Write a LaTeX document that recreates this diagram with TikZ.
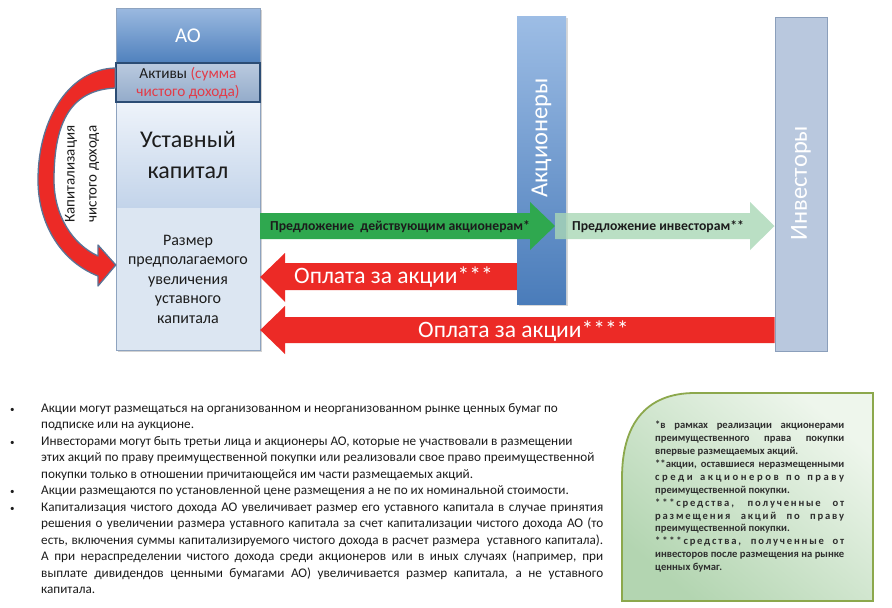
\documentclass[tikz,border=0pt]{standalone}
\usepackage{fontspec}
\setmainfont{Carlito}
\newfontfamily\spacedA[LetterSpace=24]{Carlito}
\newfontfamily\spacedB[LetterSpace=17]{Carlito}
\usetikzlibrary{shadows}
\definecolor{aoTop}{HTML}{9BB9E0}
\definecolor{aoBot}{HTML}{4F81BD}
\definecolor{assetTop}{HTML}{BACADF}
\definecolor{assetBot}{HTML}{93ABCA}
\definecolor{assetLine}{HTML}{2B4C74}
\definecolor{capTop}{HTML}{EEF3FA}
\definecolor{capBot}{HTML}{C3D4EA}
\definecolor{sizeFill}{HTML}{DCE6F2}
\definecolor{frameC}{HTML}{8EA3BF}
\definecolor{akTop}{HTML}{9DBDE5}
\definecolor{akBot}{HTML}{4A7CBA}
\definecolor{invFill}{HTML}{B9C8DE}
\definecolor{invLine}{HTML}{8B9FBB}
\definecolor{greenA}{HTML}{2FA84F}
\definecolor{greenB}{HTML}{A9D7B6}
\definecolor{redA}{HTML}{EC2A26}
\definecolor{redText}{HTML}{E23B48}
\definecolor{curveLine}{HTML}{5A7496}
\definecolor{noteLine}{HTML}{8CA84C}
\definecolor{noteDark}{HTML}{B3D5B1}
\definecolor{noteLight}{HTML}{EEF6EC}
\definecolor{txt}{HTML}{1C1C1C}
\definecolor{fnTxt}{HTML}{2E2E2E}
\tikzset{
  secbox/.style={inner sep=0pt, minimum width=144},
  labeltext/.style={inner sep=0pt, text=txt},
  redarrow/.style={fill=redA},
  whitebig/.style={inner sep=0pt, text=white, font=\fontsize{23.5}{27}\selectfont},
  offertext/.style={inner sep=0pt, text=txt, font=\bfseries\fontsize{13.7}{16}\selectfont, anchor=west},
  coltext/.style={inner sep=0pt, rotate=90, text=white, font=\fontsize{24.5}{28}\selectfont},
}
\begin{document}
\begin{tikzpicture}[x=1pt,y=-1pt]
\useasboundingbox (0,0) rectangle (892,608);
\fill[white] (0,0) rectangle (892,608);

% ---- AO column
\path[fill=sizeFill, drop shadow={opacity=0.35, shadow xshift=1.5pt, shadow yshift=-1.5pt}] (116,8) rectangle (260,350);
\node[secbox, minimum height=55, top color=aoTop, bottom color=aoBot, text=white,
      font=\fontsize{21}{24}\selectfont] (ao) at (188,35.5) {АО};
\node[secbox, minimum height=143, fill=sizeFill] (size) at (188,278.5) {};
\node[secbox, minimum height=105, top color=capTop, bottom color=capBot] (charter) at (188,154.5) {};
\node[secbox, minimum height=39, top color=assetTop, bottom color=assetBot,
      draw=assetLine, line width=1.4pt] (assets) at (188,82.5) {};
\draw[frameC, line width=0.8pt] (116,8) rectangle (260,350);
\draw[assetLine, line width=1.4pt] (116,63) rectangle (260,102);

\node[labeltext, align=center, font=\fontsize{15.3}{18}\selectfont] (assetsT) at (188,83)
  {Активы {\color{redText}(сумма}\\{\color{redText}чистого дохода)}};
\node[labeltext, align=center, font=\fontsize{24}{31}\selectfont] (charterT) at (188,155)
  {Уставный\\капитал};
\node[labeltext, align=center, font=\fontsize{16}{19.5}\selectfont] (sizeT) at (188,279)
  {Размер\\предполагаемого\\увеличения\\уставного\\капитала};

% ---- shareholders and investors columns
\node[inner sep=0pt, minimum width=49, minimum height=288, top color=akTop, bottom color=akBot,
      drop shadow={opacity=0.3, shadow xshift=1.5pt, shadow yshift=-1.5pt}] (akc) at (541.5,160) {};
\node[inner sep=0pt, minimum width=52, minimum height=334, fill=invFill, draw=invLine, line width=1pt] (inv) at (801,184) {};
\node[coltext] (akcT) at (541.5,138) {Акционеры};
\node[coltext] (invT) at (801,183) {Инвесторы};

% ---- green arrows
\fill[greenA] (size.east |- 0,213) -- (530,213) -- (530,202) -- (555,226) -- (530,250) -- (530,239) -- (size.east |- 0,239) -- cycle;
\fill[greenB, opacity=0.8] (555,213) -- (750,213) -- (750,202) -- (inv.west |- 0,226) -- (750,250) -- (750,239) -- (555,239) -- cycle;
\node[offertext] (offer1) at (270,226.5) {Предложение\ \ действующим акционерам*};
\node[offertext] (offer2) at (572,226.5) {Предложение инвесторам**};

% ---- red arrows
\fill[redarrow] (akc.west |- 0,263) -- (285,263) -- (285,253) -- (size.east |- 0,277) -- (285,302) -- (285,290) -- (akc.west |- 0,290) -- cycle;
\fill[redarrow] (inv.west |- 0,317) -- (285,317) -- (285,306) -- (size.east |- 0,330) -- (285,354) -- (285,343) -- (inv.west |- 0,343) -- cycle;
\node[whitebig, anchor=west] (pay1) at (294,277.5) {Оплата за акции***};
\node[whitebig, anchor=west] (pay2) at (418,331) {Оплата за акции****};

% ---- curved capitalisation arrow
\filldraw[fill=redA, draw=curveLine, line width=1.3pt, line join=round]
  (assets.west |- 0,68) .. controls (70,69) and (38,118) .. (38,180)
  .. controls (38,225) and (62,262) .. (98,276) -- (98,286) -- (size.west |- 0,265) -- (98,245) -- (98,256)
  .. controls (72,244) and (54,215) .. (54,180)
  .. controls (54,120) and (72,90) .. (assets.west |- 0,88) -- cycle;
\node[labeltext, rotate=90, align=center, font=\fontsize{15}{22}\selectfont] (capT) at (82,174)
  {Капитализация\\чистого дохода};

% ---- notes
\node[labeltext, anchor=north west, align=left, font=\fontsize{13.2}{16.5}\selectfont] (notes) at (10,403) {%
\makebox[31pt][l]{\fontsize{9}{9}\selectfont •}Акции могут размещаться на организованном и неорганизованном рынке ценных бумаг по\\
\hspace*{31pt}подписке или на аукционе.\\
\makebox[31pt][l]{\fontsize{9}{9}\selectfont •}Инвесторами могут быть третьи лица и акционеры АО, которые не участвовали в размещении\\
\hspace*{31pt}этих акций по праву преимущественной покупки или реализовали свое право преимущественной\\
\hspace*{31pt}покупки только в отношении причитающейся им части размещаемых акций.\\
\makebox[31pt][l]{\fontsize{9}{9}\selectfont •}Акции размещаются по установленной цене размещения а не по их номинальной стоимости.\\
\makebox[31pt][l]{\fontsize{9}{9}\selectfont •}\hbox to 562pt{Капитализация чистого дохода АО увеличивает размер его уставного капитала в случае принятия}\\
\hspace*{31pt}\hbox to 562pt{решения о увеличении размера уставного капитала за счет капитализации чистого дохода АО (то}\\
\hspace*{31pt}\hbox to 562pt{есть, включения суммы капитализируемого чистого дохода в расчет размера\ \ уставного капитала).}\\
\hspace*{31pt}\hbox to 562pt{А при нераспределении чистого дохода среди акционеров или в иных случаях (например, при}\\
\hspace*{31pt}\hbox to 562pt{выплате дивидендов ценными бумагами АО) увеличивается размер капитала, а не уставного}\\
\hspace*{31pt}капитала.};

% ---- footnote box
\path[draw=noteLine, line width=1.8pt, top color=noteLight, bottom color=noteDark, shading angle=-40]
  (622,601) -- (622,478) .. controls (622,425) and (645,393) .. (695,393) -- (873,393) -- (873,601) -- cycle;
\node[labeltext, anchor=north west, align=left, text=fnTxt, font=\bfseries\fontsize{10.6}{12.9}\selectfont] (fn) at (655,421) {%
\hbox to 189pt{*в рамках реализации акционерами}\\
\hbox to 189pt{преимущественного права покупки}\\
впервые размещаемых акций.\\
\hbox to 189pt{**акции, оставшиеся неразмещенными}\\
\hbox to 189pt{\spacedA\bfseries среди акционеров по праву}\\
преимущественной покупки.\\
\hbox to 189pt{\spacedB\bfseries ***средства, полученные от}\\
\hbox to 189pt{\spacedB\bfseries размещения акций по праву}\\
преимущественной покупки.\\
\hbox to 189pt{\spacedB\bfseries ****средства, полученные от}\\
\hbox to 189pt{инвесторов после размещения на рынке}\\
ценных бумаг.};
\end{tikzpicture}
\end{document}
